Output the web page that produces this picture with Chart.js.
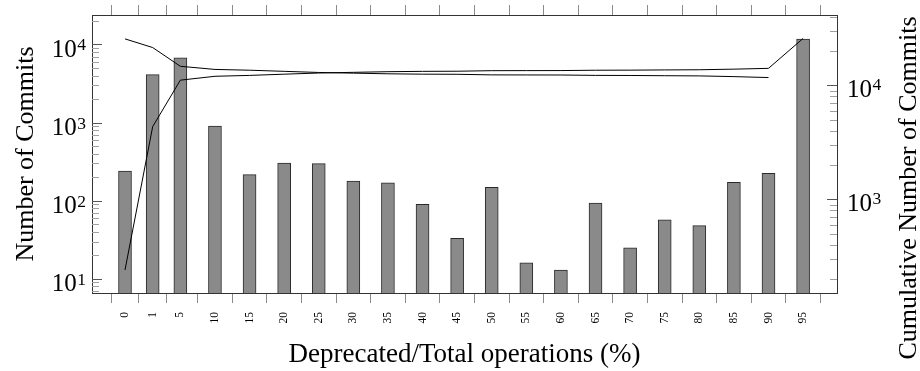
<!DOCTYPE html>
<html>
<head>
<meta charset="utf-8">
<script src="https://cdn.jsdelivr.net/npm/chart.js@4/dist/chart.umd.min.js"></script>
<style>
  html, body { margin: 0; padding: 0; background: #fff; }
  #wrap { width: 920px; height: 371px; }
</style>
</head>
<body>
<div id="wrap"><canvas id="c" width="920" height="371"></canvas></div>
<script>
// Share of deprecated operations per commit, bucketed (%)
const categories = ['0', '1', '5', '10', '15', '20', '25', '30', '35', '40', '45',
                    '50', '55', '60', '65', '70', '75', '80', '85', '90', '95'];
// Number of commits in each bucket
const commits = [240, 4100, 6760, 905, 216, 304, 298, 179, 170, 90, 33,
                 149, 16, 13, 93, 25, 57, 48, 172, 225, 11700];
// Cumulative commits with ratio up to and including the bucket
const cumulativeUpTo = [240, 4340, 11100, 12005, 12221, 12525, 12823, 13002, 13172, 13262, 13295,
                        13444, 13460, 13473, 13566, 13591, 13648, 13696, 13868, 14093, 25793];
// Cumulative commits with ratio above the bucket (buckets 0 .. 90)
const cumulativeAbove = [25553, 21453, 14693, 13788, 13572, 13268, 12970, 12791, 12621, 12531, 12498,
                         12349, 12333, 12320, 12227, 12202, 12145, 12097, 11925, 11700];
// Decades labelled on the two logarithmic axes
const leftDecades = [1, 2, 3, 4];
const rightDecades = [3, 4];

const SERIF = '"Liberation Serif", "DejaVu Serif", serif';

// The first three buckets sit closer together on the axis
const slot = i => (i < 3 ? i * 0.8 : 1.6 + (i - 2));
const slots = categories.map((_, i) => slot(i));

const barPoints = commits.map((v, i) => ({ x: slots[i], y: v }));
const upPoints = cumulativeUpTo.map((v, i) => ({ x: slots[i], y: v }));
const abovePoints = cumulativeAbove.map((v, i) => ({ x: slots[i], y: v }));

const X_MIN = -0.954, X_MAX = 20.58;

function setSlotTicks(scale) {
  scale.ticks = slots.map(v => ({ value: v }));
}

// Inside tick marks, decade labels with superscripts and the axis titles
const decor = {
  id: 'decor',
  afterDraw(chart) {
    const ctx = chart.ctx;
    const area = chart.chartArea;
    const yl = chart.scales.y;
    const yr = chart.scales.y2;

    function logTicks(scale, edgeX, dir) {
      for (let e = 0; e <= 5; e++) {
        for (let k = 1; k <= 9; k++) {
          const v = k * Math.pow(10, e);
          if (v < scale.min || v > scale.max) continue;
          const py = Math.round(scale.getPixelForValue(v)) + 0.5;
          const len = k === 1 ? 10 : 7;
          ctx.strokeStyle = k === 1 ? '#555' : '#a0a0a0';
          ctx.lineWidth = 1;
          ctx.beginPath();
          ctx.moveTo(edgeX, py);
          ctx.lineTo(edgeX + dir * len, py);
          ctx.stroke();
        }
      }
    }

    ctx.save();
    logTicks(yl, area.left, 1);
    logTicks(yr, area.right, -1);

    const baseFont = '25px ' + SERIF;
    const supFont = '17.5px ' + SERIF;
    ctx.fillStyle = '#000';
    ctx.textBaseline = 'alphabetic';

    leftDecades.forEach(n => {
      const py = yl.getPixelForValue(Math.pow(10, n));
      ctx.font = supFont;
      const sw = ctx.measureText(String(n)).width;
      ctx.textAlign = 'left';
      ctx.fillText(String(n), 86 - sw, py + 6);
      ctx.font = baseFont;
      ctx.textAlign = 'right';
      ctx.fillText('10', 86 - sw - 0.5, py + 12.4);
    });

    rightDecades.forEach(n => {
      const py = yr.getPixelForValue(Math.pow(10, n));
      ctx.font = baseFont;
      ctx.textAlign = 'left';
      const bw = ctx.measureText('10').width;
      ctx.fillText('10', 847, py + 11.4);
      ctx.font = supFont;
      ctx.fillText(String(n), 847 + bw + 0.5, py + 5);
    });

    // Axis titles
    ctx.font = '27px ' + SERIF;
    ctx.textAlign = 'center';
    ctx.textBaseline = 'alphabetic';
    ctx.fillText('Deprecated/Total operations (%)', (area.left + area.right) / 2, 362);

    ctx.font = '26px ' + SERIF;
    ctx.save();
    ctx.translate(33, (area.top + area.bottom) / 2);
    ctx.rotate(-Math.PI / 2);
    ctx.fillText('Number of Commits', 0, 0);
    ctx.restore();

    ctx.save();
    ctx.translate(916, 188);
    ctx.rotate(-Math.PI / 2);
    ctx.fillText('Cumulative Number of Commits', 0, 0);
    ctx.restore();

    ctx.restore();
  }
};

const slotAxis = (position, showLabels, boxSize) => ({
  type: 'linear',
  position,
  min: X_MIN,
  max: X_MAX,
  offset: false,
  afterBuildTicks: setSlotTicks,
  afterFit: s => { s.height = boxSize; },
  grid: {
    drawOnChartArea: false,
    drawTicks: true,
    tickLength: 10,
    tickColor: '#8a8a8a',
    color: '#8a8a8a',
    lineWidth: 1
  },
  border: { display: true, color: '#333', width: 1 },
  ticks: {
    display: showLabels,
    autoSkip: false,
    minRotation: 90,
    maxRotation: 90,
    padding: 9,
    color: '#000',
    font: { family: SERIF, size: 11.5 },
    callback: (value, index) => categories[index]
  }
});

new Chart(document.getElementById('c'), {
  type: 'bar',
  data: {
    datasets: [
      {
        type: 'line',
        label: 'Cumulative (up to)',
        data: upPoints,
        xAxisID: 'x',
        yAxisID: 'y2',
        borderColor: '#000',
        borderWidth: 1,
        pointRadius: 0,
        tension: 0,
        fill: false,
        order: 1
      },
      {
        type: 'line',
        label: 'Cumulative (above)',
        data: abovePoints,
        xAxisID: 'x',
        yAxisID: 'y2',
        borderColor: '#000',
        borderWidth: 1,
        pointRadius: 0,
        tension: 0,
        fill: false,
        order: 1
      },
      {
        type: 'bar',
        label: 'Commits',
        data: barPoints,
        xAxisID: 'x',
        yAxisID: 'y',
        backgroundColor: '#8a8a8a',
        borderColor: '#2a2a2a',
        borderWidth: 1,
        borderSkipped: 'start',
        barThickness: 13,
        order: 2
      }
    ]
  },
  options: {
    responsive: false,
    animation: false,
    devicePixelRatio: 1,
    layout: { padding: 0 },
    plugins: {
      legend: { display: false },
      tooltip: { enabled: false }
    },
    scales: {
      x: slotAxis('bottom', true, 78),
      xTop: slotAxis('top', false, 15),
      y: {
        type: 'logarithmic',
        position: 'left',
        min: 6.6,
        max: 23800,
        afterFit: s => { s.width = 92; },
        grid: { display: false, drawTicks: false },
        border: { display: true, color: '#333', width: 1 },
        ticks: { display: false }
      },
      y2: {
        type: 'logarithmic',
        position: 'right',
        min: 150.7,
        max: 41400,
        afterFit: s => { s.width = 83; },
        grid: { display: false, drawTicks: false },
        border: { display: true, color: '#333', width: 1 },
        ticks: { display: false }
      }
    }
  },
  plugins: [decor]
});
</script>
</body>
</html>
